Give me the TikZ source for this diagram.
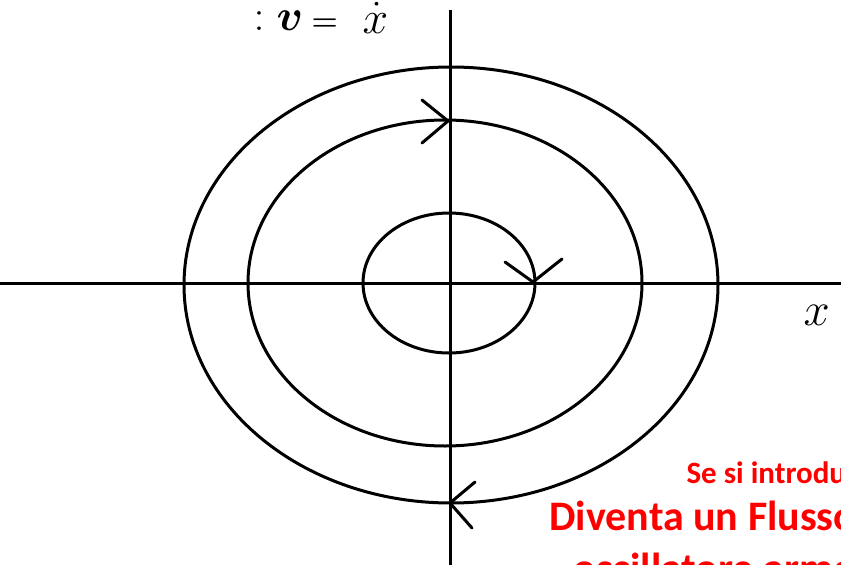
\RequirePackage{fix-cm}
\documentclass[tikz,border=0pt]{standalone}
\usepackage{amsmath,bm}
\usepackage{fontspec}
\newfontfamily\calibrifont{Carlito}

\tikzset{every picture/.style={line width=3pt}}
\tikzset{chevron/.style={line cap=round, line join=round}}
\tikzset{redlabel/.style={anchor=base west, inner sep=0pt, text={rgb,255:red,255; green,0; blue,0}}}

\begin{document}
\begin{tikzpicture}[x=1pt,y=1pt,yscale=-1,xscale=1]
%set diagram left start at 0, and has height of 565
\useasboundingbox (0,0) rectangle (841,565);
\clip (0,0) rectangle (841,565);

%Straight Lines [id:da_xaxis] 
\draw    (0,283) -- (841,283) ;
%Straight Lines [id:da_vaxis] 
\draw    (450,10) -- (450,565) ;

%Shape: Ellipse [id:dp_outer] 
\draw   (184,285) .. controls (184,164.6) and (303.54,67) .. (451,67) .. controls (598.46,67) and (718,164.6) .. (718,285) .. controls (718,405.4) and (598.46,503) .. (451,503) .. controls (303.54,503) and (184,405.4) .. (184,285) -- cycle ;
%Shape: Ellipse [id:dp_middle] 
\draw   (248,283) .. controls (248,192.98) and (336.2,120) .. (445,120) .. controls (553.8,120) and (642,192.98) .. (642,283) .. controls (642,373.02) and (553.8,446) .. (445,446) .. controls (336.2,446) and (248,373.02) .. (248,283) -- cycle ;
%Shape: Ellipse [id:dp_inner] 
\draw   (363,283) .. controls (363,244.34) and (401.5,213) .. (449,213) .. controls (496.5,213) and (535,244.34) .. (535,283) .. controls (535,321.66) and (496.5,353) .. (449,353) .. controls (401.5,353) and (363,321.66) .. (363,283) -- cycle ;

%Straight Lines [id:da_arrow_middle] 
\draw  [chevron]  (422,100) -- (448,121) -- (422,143) ;
%Straight Lines [id:da_arrow_inner] 
\draw  [chevron]  (505,262) -- (533,282) -- (562,259) ;
%Straight Lines [id:da_arrow_outer] 
\draw  [chevron]  (475,482) -- (450,503) -- (472,528) ;

% Text Node
\node [anchor=base west, inner sep=0pt, font=\fontsize{44}{44}\selectfont] (vlabel) at (252,30) {$:\bm{v}$\fontsize{30}{30}\selectfont$\;\bm{=}$};
% Text Node
\node [anchor=base west, inner sep=0pt, font=\fontsize{46}{46}\selectfont] (xdot) at (361,33) {$\dot{x}$};
% Text Node
\node [anchor=base west, inner sep=0pt, font=\fontsize{47}{47}\selectfont] (xlabel) at (802,325) {$x$};

% Text Node
\node [redlabel, font=\calibrifont\bfseries\fontsize{31}{36}\selectfont] (intro) at (685,483) {Se si introdu};
% Text Node
\node [redlabel, font=\calibrifont\bfseries\fontsize{42}{50}\selectfont] (flusso) at (548,530) {Diventa un Flusso};
% Text Node
\node [redlabel, font=\calibrifont\bfseries\fontsize{42}{50}\selectfont] (oscill) at (572,582) {oscillatore armo};

\end{tikzpicture}
\end{document}
